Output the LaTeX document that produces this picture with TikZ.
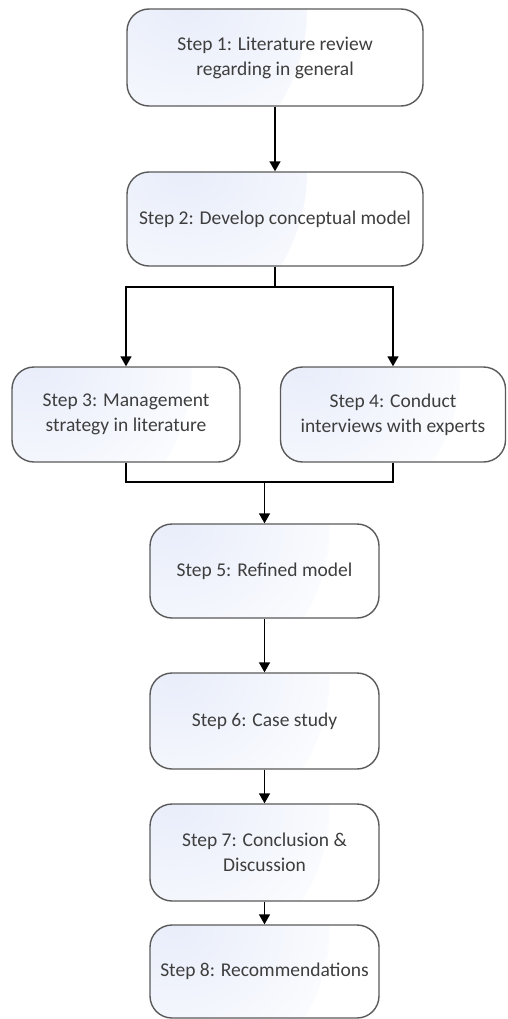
\documentclass[tikz,border=0pt]{standalone}
\usepackage{fontspec}
\setmainfont{Carlito}
\usetikzlibrary{arrows.meta}
\definecolor{boxedge}{RGB}{90,90,90}
\definecolor{boxtint}{RGB}{232,237,250}
\definecolor{labelgray}{RGB}{62,62,62}
\tikzset{
  stepbox/.style={draw=boxedge, line width=1.4pt, rounded corners=22pt,
    fill=white,
    path picture={\shade[inner color=boxtint, outer color=white]
      (path picture bounding box.north west) circle (180pt);},
    align=center, text=labelgray, inner sep=0pt,
    font=\fontsize{19.5}{25}\selectfont},
  link/.style={line width=1.5pt, draw=black},
  arr/.style={link, -{Triangle[length=10pt,width=11pt]}}
}
\begin{document}
\begin{tikzpicture}[x=1pt,y=-1pt]
  \useasboundingbox (0,0) rectangle (507,1019);
  % process steps
  \node[stepbox, minimum width=296pt, minimum height=97pt] (b1) at (275,57.5)
    {Step 1: Literature review\\regarding in general};
  \node[stepbox, minimum width=296pt, minimum height=94pt] (b2) at (275,219)
    {Step 2: Develop conceptual model};
  \node[stepbox, minimum width=228pt, minimum height=95pt] (b3) at (126,414.5)
    {Step 3: Management\\strategy in literature};
  \node[stepbox, minimum width=225pt, minimum height=95pt] (b4) at (393,414.5)
    {Step 4: Conduct\\interviews with experts};
  \node[stepbox, minimum width=229pt, minimum height=94pt] (b5) at (264.5,571)
    {Step 5: Refined model};
  \node[stepbox, minimum width=229pt, minimum height=96pt] (b6) at (264.5,721)
    {Step 6: Case study};
  \node[stepbox, minimum width=229pt, minimum height=97pt] (b7) at (264.5,852.5)
    {Step 7: Conclusion \&\\Discussion};
  \node[stepbox, minimum width=229pt, minimum height=93pt] (b8) at (264.5,971.5)
    {Step 8: Recommendations};
  % branch and merge points
  \coordinate (split) at (275,287);
  \coordinate (merge) at (264.5,482);
  % connectors
  \draw[arr] (b1.south) -- (b2.north);
  \draw[link] (b2.south) -- (split);
  \draw[arr] (split) -| (b3.north);
  \draw[arr] (split) -| (b4.north);
  \draw[link] (b3.south) |- (merge);
  \draw[link] (b4.south) |- (merge);
  \draw[arr] (merge) -- (b5.north);
  \draw[arr] (b5.south) -- (b6.north);
  \draw[arr] (b6.south) -- (b7.north);
  \draw[arr] (b7.south) -- (b8.north);
\end{tikzpicture}
\end{document}
